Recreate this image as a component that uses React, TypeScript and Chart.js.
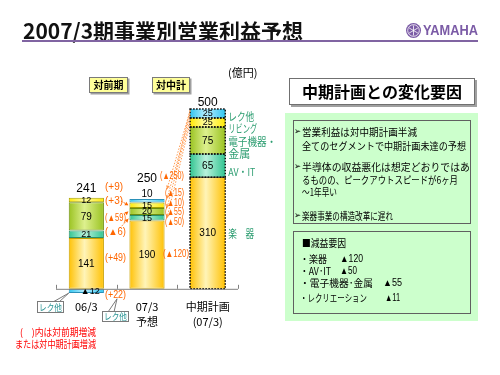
import React, { useEffect, useRef } from 'react';
import { Chart, registerables } from 'chart.js';

Chart.register(...registerables);

// ---------- data ----------
const categories: string[][] = [['06/3'], ['07/3', '予想'], ['中期計画', '(07/3)']];
const segmentNames = ['楽器', 'AV・IT', '電子機器・金属', 'リビング', 'レク他'];
const gakki = [141, 190, 310];
const avit = [21, 15, 65];
const denshi = [79, 20, 75];
const living = [12, 15, 25];
const reku = [-12, 10, 25];
const totals = [241, 250, 500];
const sideLabels = [['楽　器'], ['AV・IT'], ['電子機器・', '金属'], ['リビング'], ['レク他']];
const yMin = -20;
const yMax = 550;

const panelTitle = '中期計画との変化要因';
const points1 = [
  ['営業利益は対中期計画半減', '全てのセグメントで中期計画未達の予想'],
  ['半導体の収益悪化は想定どおりではあ', 'るものの、ピークアウトスピードが6ヶ月', '～1年早い'],
  ['楽器事業の構造改革に遅れ'],
];
const factorTitle = '■減益要因';
const factorNames = ['・楽器', '・AV･IT', '・電子機器･金属', '・レクリエーション'];
const factorValues = ['▲120', '▲50', '▲55', '▲11'];

const JP = '"Noto Sans CJK JP", "DejaVu Sans", sans-serif';
const NUM = '"Liberation Sans", "DejaVu Sans", sans-serif';

const fmtDiff = (d: number) => (d >= 0 ? `(+${d})` : `(▲${-d})`);

const seriesArrays = [gakki, avit, denshi, living, reku];
const edgeColors = ['#FFC000', '#2FC38F', '#99C21F', '#FFE800', '#2EC4F0'];
const midColors = ['#FFF4B8', '#B8F2DC', '#DDF08E', '#FFFFA8', '#B8EEFF'];
const borderColors = ['#C8A000', '#2A8F6A', '#6E8E10', '#A8A000', '#2A90B8'];

function gradient(i: number) {
  return (c: any) => {
    const chart = c.chart;
    const xs = chart.scales?.x;
    if (!chart.chartArea || !xs) return edgeColors[i];
    const cx = xs.getPixelForValue(c.dataIndex);
    const w = 36;
    const g = chart.ctx.createLinearGradient(cx - w / 2, 0, cx + w / 2, 0);
    g.addColorStop(0, edgeColors[i]);
    g.addColorStop(0.45, midColors[i]);
    g.addColorStop(1, edgeColors[i]);
    return g;
  };
}

function txt(ctx: CanvasRenderingContext2D, s: string, x: number, y: number, font: string, color: string, align: CanvasTextAlign = 'left', maxW?: number) {
  ctx.font = font;
  ctx.fillStyle = color;
  ctx.textAlign = align;
  ctx.textBaseline = 'middle';
  if (maxW) ctx.fillText(s, x, y, maxW);
  else ctx.fillText(s, x, y);
}

function dotted(ctx: CanvasRenderingContext2D, pts: number[][], color: string, arrow = false) {
  ctx.save();
  ctx.strokeStyle = color;
  ctx.lineWidth = 1;
  ctx.setLineDash([1.5, 1.5]);
  ctx.beginPath();
  ctx.moveTo(pts[0][0], pts[0][1]);
  for (let i = 1; i < pts.length; i++) ctx.lineTo(pts[i][0], pts[i][1]);
  ctx.stroke();
  if (arrow) {
    const [x1, y1] = pts[pts.length - 2];
    const [x2, y2] = pts[pts.length - 1];
    const a = Math.atan2(y2 - y1, x2 - x1);
    ctx.setLineDash([]);
    ctx.fillStyle = color;
    ctx.beginPath();
    ctx.moveTo(x2, y2);
    ctx.lineTo(x2 - 4 * Math.cos(a - 0.5), y2 - 4 * Math.sin(a - 0.5));
    ctx.lineTo(x2 - 4 * Math.cos(a + 0.5), y2 - 4 * Math.sin(a + 0.5));
    ctx.closePath();
    ctx.fill();
  }
  ctx.restore();
}

const decor = {
  id: 'decor',
  afterDraw(chart: any) {
    const ctx: CanvasRenderingContext2D = chart.ctx;
    const xs = chart.scales.x;
    const ys = chart.scales.y;
    const area = chart.chartArea;
    const el = (ds: number, i: number) => chart.getDatasetMeta(ds).data[i] as any;
    const y0 = ys.getPixelForValue(0);
    const ORANGE = '#FF6600';

    // dotted borders for plan bar
    ctx.save();
    ctx.strokeStyle = '#111';
    ctx.lineWidth = 1.5;
    ctx.setLineDash([1.6, 1.4]);
    for (let ds = 0; ds < seriesArrays.length; ds++) {
      const e = el(ds, 2);
      const top = Math.min(e.y, e.base);
      const h = Math.abs(e.base - e.y);
      ctx.strokeRect(e.x - e.width / 2, top, e.width, h);
    }
    ctx.restore();

    // axis baseline with ticks
    ctx.save();
    ctx.strokeStyle = '#808080';
    ctx.lineWidth = 1;
    ctx.beginPath();
    ctx.moveTo(area.left, y0 + 0.5);
    ctx.lineTo(area.right, y0 + 0.5);
    const n = categories.length;
    for (let i = 0; i <= n; i++) {
      const bx = Math.round(area.left + (i * (area.right - area.left)) / n) + 0.5;
      ctx.moveTo(bx, y0);
      ctx.lineTo(bx, y0 - 4);
    }
    ctx.stroke();
    ctx.restore();

    // category labels
    categories.forEach((lines, i) => {
      const cx = xs.getPixelForValue(i);
      lines.forEach((l, j) => txt(ctx, l, cx, 307 + j * 15, `11px ${JP}`, '#000', 'center'));
    });

    // segment labels
    for (let ds = 0; ds < seriesArrays.length; ds++) {
      for (let i = 0; i < 3; i++) {
        const v = seriesArrays[ds][i];
        const e = el(ds, i);
        const cy = (e.y + e.base) / 2;
        if (v < 0) {
          txt(ctx, `▲${-v}`, e.x + 4, cy + 0.5, `9px ${NUM}`, '#000', 'center');
        } else if (ds === 4 && i === 1) {
          txt(ctx, `${v}`, e.x, e.y - 5, `10px ${NUM}`, '#000', 'center');
        } else {
          const small = Math.abs(e.base - e.y) < 9;
          txt(ctx, `${v}`, e.x, cy + 0.5, `${small ? 9 : 10}px ${NUM}`, '#000', 'center');
        }
      }
    }

    // totals
    const totalOffsets = [9, 20, 6];
    totals.forEach((t, i) => {
      const e = el(3, i);
      const top = Math.min(el(4, i).y, e.y);
      txt(ctx, `${t}`, e.x, top - totalOffsets[i], `12px ${NUM}`, '#000', 'center');
    });

    // series names beside plan bar
    const plan = 2;
    const sideMax = [26, 27, 48, 29, 26];
    const sideOffset = [1, 6.4, 7.5, 6.5, 3.5];
    for (let ds = 0; ds < seriesArrays.length; ds++) {
      const e = el(ds, plan);
      const cy = (e.y + e.base) / 2 + sideOffset[ds];
      const lines = sideLabels[ds];
      const x0 = e.x + e.width / 2 + 3;
      lines.forEach((l, j) => {
        const yy = cy - ((lines.length - 1) * 12.5) / 2 + j * 12.5;
        txt(ctx, l, x0, yy, `11px ${JP}`, '#2E9E72', 'left', j === 1 ? 22 : sideMax[ds]);
      });
    }

    // differences vs previous year
    const prevVals = [86, 158, 197, 244, -17];
    const prevX = 105;
    for (let ds = 0; ds < seriesArrays.length; ds++) {
      const d = seriesArrays[ds][1] - seriesArrays[ds][0];
      txt(ctx, fmtDiff(d), prevX, ys.getPixelForValue(prevVals[ds]), `10px ${NUM}`, ORANGE, 'left', 21);
    }
    txt(ctx, fmtDiff(totals[1] - totals[0]), prevX, ys.getPixelForValue(283), `10px ${NUM}`, ORANGE, 'left', 18);

    // arrows from prev labels to forecast bar
    const b2left = el(0, 1).x - el(0, 1).width / 2;
    const mid = (ds: number) => (el(ds, 1).y + el(ds, 1).base) / 2;
    dotted(ctx, [[121, ys.getPixelForValue(244)], [b2left - 1, mid(3)]], ORANGE, true);
    dotted(ctx, [[124, ys.getPixelForValue(197) - 3], [b2left - 1, mid(2)]], ORANGE, true);
    dotted(ctx, [[120, ys.getPixelForValue(158) - 4], [b2left - 1, mid(1) + 1]], ORANGE, true);

    // differences vs plan
    const planVals = [97, 186, 214, 239, 266];
    const planX = 164;
    const b3 = el(4, 2);
    const b3left = b3.x - b3.width / 2;
    for (let ds = seriesArrays.length - 1; ds >= 1; ds--) {
      const yy = ys.getPixelForValue(planVals[ds]);
      dotted(ctx, [[b3left, b3.y + 2 + (4 - ds) * 4], [planX + 3, yy - 4]], '#FF9A50', true);
    }
    dotted(ctx, [[b3left, b3.y + 1], [planX + 12, ys.getPixelForValue(314) - 5]], '#FF9A50', false);
    for (let ds = 0; ds < seriesArrays.length; ds++) {
      const d = seriesArrays[ds][1] - seriesArrays[ds][2];
      const yy = ys.getPixelForValue(planVals[ds]);
      txt(ctx, fmtDiff(d), ds === 0 ? planX - 1 : planX + 1, yy, `10px ${NUM}`, ORANGE, 'left', ds === 0 ? 26 : 19);
    }
    txt(ctx, fmtDiff(totals[1] - totals[2]), 160, ys.getPixelForValue(314), `10px ${NUM}`, ORANGE, 'left', 24);

    // callouts "レク他"
    const callout = (bx: number, by: number, w: number, h: number, tail: number[][]) => {
      ctx.save();
      ctx.fillStyle = '#fff';
      ctx.strokeStyle = '#7a7a7a';
      ctx.lineWidth = 1;
      ctx.beginPath();
      ctx.moveTo(tail[0][0], tail[0][1]);
      ctx.lineTo(tail[1][0], tail[1][1]);
      ctx.lineTo(tail[2][0], tail[2][1]);
      ctx.stroke();
      ctx.fillRect(bx, by, w, h);
      ctx.strokeRect(bx + 0.5, by + 0.5, w, h);
      ctx.restore();
      txt(ctx, 'レク他', bx + w / 2 + 0.5, by + h / 2 + 1, `9px ${JP}`, '#2A9494', 'center', w - 3);
    };
    const n1 = el(4, 0);
    callout(37, 301, 26, 11, [[53, 302], [n1.x - n1.width / 2, n1.y], [59, 302]]);
    callout(102, 311, 26, 10, [[108, 312], [117, y0 + 10], [114, 312]]);

    // ---------- slide decorations ----------
    // title
    txt(ctx, '2007/3期事業別営業利益予想', 23, 31, `bold 21px ${JP}`, '#111', 'left', 292);
    ctx.fillStyle = '#8064A2';
    ctx.fillRect(22, 40, 456, 2);
    // logo
    ctx.save();
    ctx.fillStyle = '#7B5BA6';
    ctx.beginPath();
    ctx.arc(413.5, 30.5, 7.5, 0, Math.PI * 2);
    ctx.fill();
    ctx.strokeStyle = '#fff';
    ctx.lineWidth = 0.8;
    ctx.beginPath();
    ctx.arc(413.5, 30.5, 5.8, 0, Math.PI * 2);
    ctx.stroke();
    for (let k = 0; k < 3; k++) {
      const a = (k * Math.PI) / 3 + Math.PI / 2;
      ctx.beginPath();
      ctx.moveTo(413.5 + 5 * Math.cos(a), 30.5 + 5 * Math.sin(a));
      ctx.lineTo(413.5 - 5 * Math.cos(a), 30.5 - 5 * Math.sin(a));
      ctx.stroke();
    }
    ctx.restore();
    txt(ctx, 'YAMAHA', 423, 31, `bold 15px ${NUM}`, '#7B5BA6', 'left', 55);

    // yellow tag boxes
    const tag = (bx: number, by: number, w: number, h: number, s: string) => {
      ctx.fillStyle = '#A0A0A0';
      ctx.fillRect(bx + 1.5, by + 1.5, w, h);
      ctx.fillStyle = '#FFFF99';
      ctx.fillRect(bx, by, w, h);
      ctx.strokeStyle = '#7a7a7a';
      ctx.lineWidth = 1;
      ctx.strokeRect(bx + 0.5, by + 0.5, w - 1, h - 1);
      txt(ctx, s, bx + w / 2, by + h / 2 + 0.5, `bold 10px ${JP}`, '#000', 'center', w - 6);
    };
    tag(89, 77, 39, 16, '対前期');
    tag(152, 77, 38, 16, '対中計');
    txt(ctx, '(億円)', 228, 73, `11px ${JP}`, '#000', 'left', 30);

    // red note
    txt(ctx, '(　)内は対前期増減', 20, 332, `10px ${JP}`, '#FF0000', 'left', 76);
    txt(ctx, 'または対中期計画増減', 15, 344, `10px ${JP}`, '#FF0000', 'left', 81);

    // right panel
    ctx.fillStyle = '#A0A0A0';
    ctx.fillRect(291, 80, 186, 27);
    ctx.fillStyle = '#fff';
    ctx.fillRect(289, 78, 186, 27);
    ctx.strokeStyle = '#707070';
    ctx.strokeRect(289.5, 78.5, 185, 26);
    txt(ctx, panelTitle, 382, 92, `bold 16px ${JP}`, '#000', 'center', 162);

    ctx.fillStyle = '#CCFFCC';
    ctx.fillRect(285, 113, 193, 208);
    ctx.strokeStyle = '#606060';
    ctx.strokeRect(293.5, 120.5, 177, 103);
    ctx.strokeRect(293.5, 231.5, 177, 82);

    const bulletYs = [[132, 146], [167, 180, 192], [216]];
    const maxWs = [[115, 164], [168, 156, 35], [91]];
    points1.forEach((lines, i) => {
      txt(ctx, '➢', 294, bulletYs[i][0], `9px "DejaVu Sans", sans-serif`, '#000', 'left', 7);
      lines.forEach((l, j) => txt(ctx, l, 302, bulletYs[i][j], `10px ${JP}`, '#000', 'left', maxWs[i][j]));
    });

    txt(ctx, factorTitle, 302, 243, `10px ${JP}`, '#000', 'left', 44);
    const fy = [259, 271, 283, 298];
    const fnameW = [27, 31, 73, 67];
    const fvalX = [340, 340, 383, 385];
    const fvalW = [23, 17, 19, 15];
    factorNames.forEach((s, i) => {
      txt(ctx, s, 300, fy[i], `10px ${JP}`, '#000', 'left', fnameW[i]);
      txt(ctx, factorValues[i], fvalX[i], fy[i], `10px ${NUM}`, '#000', 'left', fvalW[i]);
    });
  },
};

export default function App() {
  const ref = useRef<HTMLCanvasElement>(null);
  useEffect(() => {
    const canvas = ref.current!;
    const chart = new Chart(canvas, {
      type: 'bar',
      data: {
        labels: categories.map((c) => c.join(' ')),
        datasets: seriesArrays.map((arr, i) => ({
          label: segmentNames[i],
          data: arr,
          backgroundColor: gradient(i),
          borderColor: borderColors[i],
          borderWidth: (c: any) => (c.dataIndex === 2 ? 0 : 1),
          borderSkipped: false,
          barPercentage: 0.58,
          categoryPercentage: 1,
        })),
      },
      options: {
        responsive: false,
        animation: false,
        devicePixelRatio: 1,
        layout: { padding: { left: 56, right: 262, top: 91, bottom: 79 } },
        plugins: { legend: { display: false }, tooltip: { enabled: false } },
        scales: {
          x: { display: false, stacked: true },
          y: { display: false, stacked: true, min: yMin, max: yMax },
        },
      } as any,
      plugins: [decor],
    });
    return () => chart.destroy();
  }, []);
  return (
    <div style={{ position: 'fixed', left: 0, top: 0, width: 500, height: 375, background: '#fff' }}>
      <canvas ref={ref} width={500} height={375} style={{ display: 'block' }} />
    </div>
  );
}
